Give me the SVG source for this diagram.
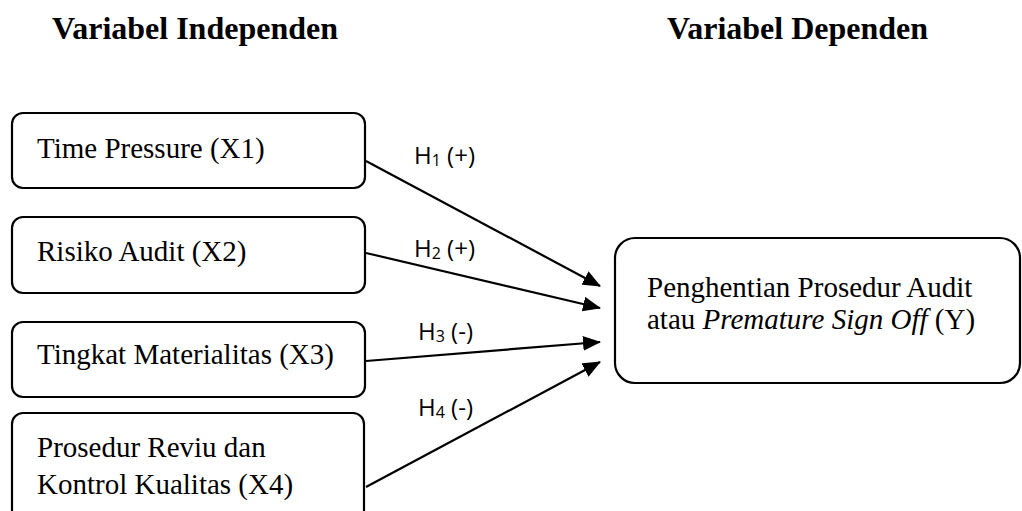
<svg xmlns="http://www.w3.org/2000/svg" width="1022" height="511" viewBox="0 0 1022 511">
<style>
.box{fill:#fff;stroke:#000;stroke-width:2.2}
.t{font-family:"Liberation Serif","Times New Roman",serif;font-size:29px;fill:#000}
.h{font-family:"Liberation Serif","Times New Roman",serif;font-size:32px;font-weight:bold;fill:#000}
.lab{font-family:"Open Sans","Noto Sans",sans-serif;font-size:24px;fill:#000}
.sub{font-size:16px}
.conn{stroke:#000;stroke-width:2.2;fill:none;marker-end:url(#arr)}
</style>
<defs>
<marker id="arr" markerUnits="userSpaceOnUse" markerWidth="18" markerHeight="15" viewBox="0 0 18 15" refX="17" refY="7.5" orient="auto">
<path d="M0,0 L18,7.5 L0,15 Z" fill="#000"/>
</marker>
</defs>
<rect width="1022" height="511" fill="#fff"/>
<g id="headings">
<text class="h" x="52" y="39">Variabel Independen</text>
<text class="h" x="667" y="39">Variabel Dependen</text>
</g>
<g id="x1">
<rect class="box" x="12" y="113" width="353" height="75" rx="11"/>
<text class="t" x="37" y="158">Time Pressure (X1)</text>
</g>
<g id="x2">
<rect class="box" x="12" y="217" width="353" height="76" rx="11"/>
<text class="t" x="37" y="261">Risiko Audit (X2)</text>
</g>
<g id="x3">
<rect class="box" x="12" y="322" width="353" height="75" rx="11"/>
<text class="t" x="37" y="364">Tingkat Materialitas (X3)</text>
</g>
<g id="x4">
<rect class="box" x="12" y="413" width="352" height="120" rx="11"/>
<text class="t" x="37" y="457">Prosedur Reviu dan</text>
<text class="t" x="37" y="494">Kontrol Kualitas (X4)</text>
</g>
<g id="y">
<rect class="box" x="615" y="238" width="405" height="145" rx="20"/>
<text class="t" x="647" y="297">Penghentian Prosedur Audit</text>
<text class="t" x="647" y="329">atau <tspan font-style="italic">Premature Sign Off</tspan> (Y)</text>
</g>
<g id="connectors">
<line class="conn" x1="366" y1="161" x2="600" y2="286"/>
<line class="conn" x1="366" y1="253" x2="600" y2="308"/>
<line class="conn" x1="366" y1="361" x2="600" y2="342"/>
<line class="conn" x1="366" y1="487" x2="600" y2="362"/>
<text class="lab" x="414" y="164">H<tspan class="sub" dy="2">1</tspan><tspan dy="-2"> (+)</tspan></text>
<text class="lab" x="414" y="257">H<tspan class="sub" dy="2">2</tspan><tspan dy="-2"> (+)</tspan></text>
<text class="lab" x="418" y="340">H<tspan class="sub" dy="2">3</tspan><tspan dy="-2"> (-)</tspan></text>
<text class="lab" x="418" y="416">H<tspan class="sub" dy="2">4</tspan><tspan dy="-2"> (-)</tspan></text>
</g>
</svg>
